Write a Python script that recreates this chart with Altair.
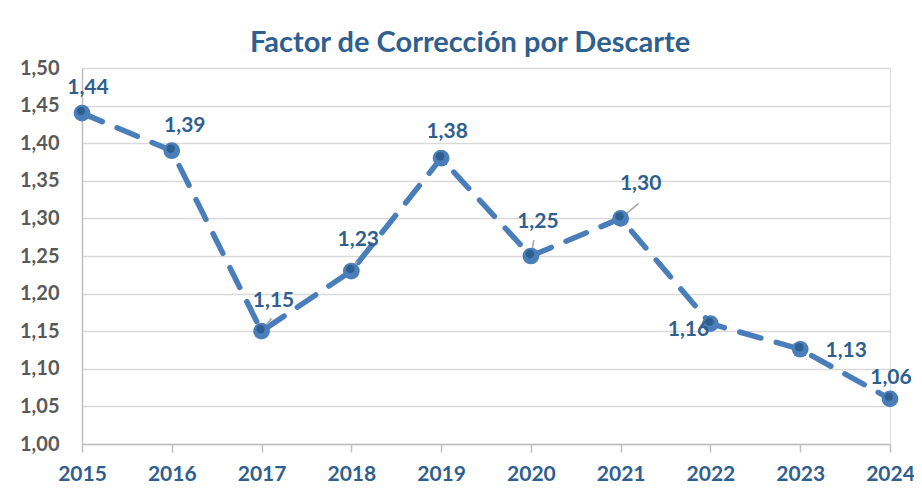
import altair as alt
import pandas as pd

years = [2015, 2016, 2017, 2018, 2019, 2020, 2021, 2022, 2023, 2024]
values = [1.44, 1.39, 1.15, 1.23, 1.38, 1.25, 1.30, 1.16, 1.126, 1.06]
y_ticks = [1.00, 1.05, 1.10, 1.15, 1.20, 1.25, 1.30, 1.35, 1.40, 1.45, 1.50]
title_text = "Factor de Corrección por Descarte"

df = pd.DataFrame({"year": years, "value": values})

# label placement (pixel offsets), style only
label_offsets = {
    2015: (6, -25), 2016: (13, -25), 2017: (12, -30), 2018: (7, -31),
    2019: (6, -26), 2020: (7, -34), 2021: (20, -34), 2022: (-22, 6),
    2023: (46, 2), 2024: (1, -21),
}
leader_offsets = {2017: (10, -13), 2018: (6, -10), 2020: (3, -16), 2021: (18, -15)}

BLUE = "#4A7EBB"
DARK = "#2F5F8F"
FONT = "Lato"

x_enc = alt.X("year:Q", scale=alt.Scale(domain=[2015, 2024], nice=False),
              axis=alt.Axis(values=years, tickCount=20, format="d", title=None, grid=False,
                            domainColor="#BFBFBF", tickColor="#BFBFBF", tickSize=8,
                            domainWidth=1.5, tickWidth=1.5,
                            labelFont=FONT, labelFontSize=21, labelFontWeight="bold",
                            labelColor=DARK, labelPadding=11, labelFlush=False))
y_enc = alt.Y("value:Q", scale=alt.Scale(domain=[1.0, 1.5], nice=False, zero=False),
              axis=alt.Axis(values=y_ticks, tickCount=20, title=None, ticks=False,
                            labelOverlap=False,
                            labelExpr="replace(format(datum.value, '.2f'), '.', ',')",
                            gridColor="#D9D9D9", gridWidth=1.5,
                            domainColor="#BFBFBF", domainWidth=1.5,
                            labelFont=FONT, labelFontSize=20,
                            labelFontWeight="bold", labelColor="#595959", labelPadding=23))

base = alt.Chart(df).encode(x=x_enc, y=y_enc)

line = base.mark_line(color=BLUE, strokeWidth=5.5, strokeDash=[22, 16], strokeCap="round")

outer = base.mark_circle(color=BLUE, opacity=1, size=280)
inner = base.mark_circle(color=DARK, opacity=1, size=70, xOffset=-1, yOffset=-2)

layers = [line]
for yr, (dx2, dy2) in leader_offsets.items():
    layers.append(
        base.transform_filter(alt.datum.year == yr).mark_rule(
            color="#A6A6A6", strokeWidth=1.5, x2Offset=dx2, y2Offset=dy2
        ).encode(x2="year:Q", y2="value:Q")
    )
layers += [outer, inner]

for yr, (dx, dy) in label_offsets.items():
    layers.append(
        base.transform_filter(alt.datum.year == yr)
        .transform_calculate(lbl="replace(format(datum.value, '.2f'), '.', ',')")
        .mark_text(dx=dx, dy=dy, font=FONT, fontSize=21, fontWeight="bold", color=DARK,
                   align="center", baseline="middle")
        .encode(text="lbl:N")
    )

chart = alt.layer(*layers).properties(
    width=808, height=376,
    title=alt.TitleParams(title_text, font=FONT, fontSize=29, fontWeight="bold",
                          color=DARK, anchor="middle", dx=-16, offset=0),
    autosize=alt.AutoSizeParams(type="none"),
    padding={"left": 74, "top": 60, "right": 24, "bottom": 40},
).configure_view(stroke=None).configure(background="white")

chart.save("out.html", embed_options={"renderer": "svg", "actions": False})
